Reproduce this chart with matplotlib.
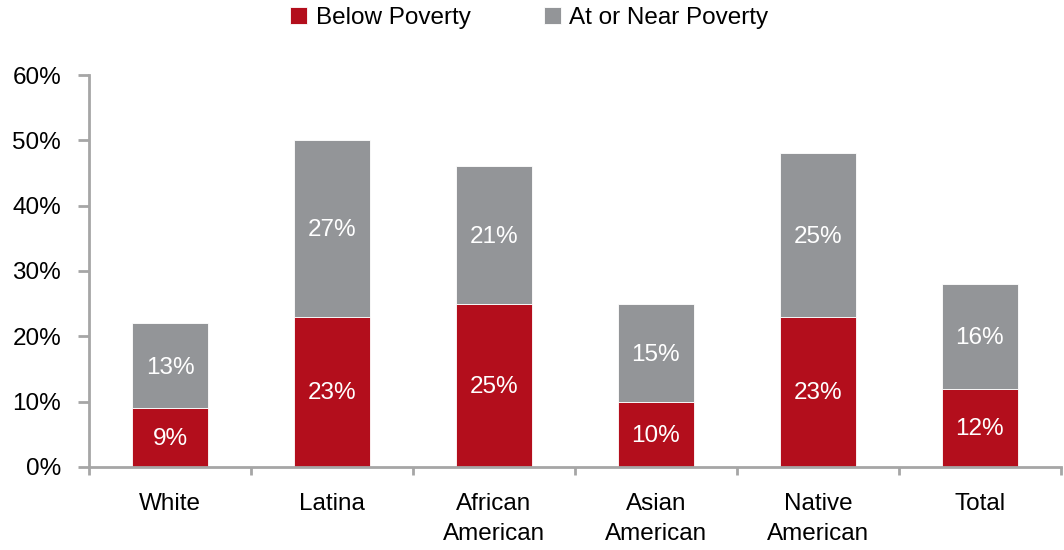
import matplotlib.pyplot as plt
from matplotlib import font_manager
import numpy as np

# 数据
categories = ['White', 'Latina', 'African\nAmerican', 'Asian\nAmerican', 'Native\nAmerican', 'Total']
below = [9, 23, 25, 10, 23, 12]
near = [13, 27, 21, 15, 25, 16]
y_ticks = [0, 10, 20, 30, 40, 50, 60]

names = {f.name for f in font_manager.fontManager.ttflist}
font = 'Liberation Sans Narrow' if 'Liberation Sans Narrow' in names else 'Liberation Sans'
plt.rcParams['font.family'] = [font, 'DejaVu Sans']

red = '#B30E1C'
gray = '#939598'
axis_gray = '#A6A6A6'

fig = plt.figure(figsize=(10.64, 5.5), dpi=100)
ax = fig.add_axes([0.0836, 0.151, 0.9134, 0.7126])

x = np.arange(len(categories))
w = 0.47
ax.bar(x, below, w, color=red, label='Below Poverty', edgecolor='white', linewidth=0.6)
ax.bar(x, near, w, bottom=below, color=gray, label='At or Near Poverty', edgecolor='white', linewidth=0.6)

# 柱内数值标签
for i in range(len(x)):
    ax.text(x[i], below[i] / 2 - 0.2, f'{below[i]}%', ha='center', va='center',
            color='white', fontsize=17.5)
    ax.text(x[i], below[i] + near[i] / 2 - 0.3, f'{near[i]}%', ha='center', va='center',
            color='white', fontsize=17.5)

ax.set_xlim(-0.5, len(x) - 0.5)
ax.set_ylim(0, 60)
ax.set_yticks(y_ticks)
ax.set_yticklabels([f'{t}%' for t in y_ticks], fontsize=17.5)
ax.set_xticks(x)
ax.set_xticklabels(categories, fontsize=17.5, linespacing=1.45, va='top')
ax.set_xticks(np.arange(-0.5, len(x)), minor=True)
ax.tick_params(axis='x', which='major', length=0, pad=19)
ax.tick_params(axis='x', which='minor', length=6, width=2, color=axis_gray, direction='out')
ax.tick_params(axis='y', length=8, width=2, color=axis_gray, pad=12)

for s in ['top', 'right']:
    ax.spines[s].set_visible(False)
for s in ['left', 'bottom']:
    ax.spines[s].set_color(axis_gray)
    ax.spines[s].set_linewidth(2)

ax.legend(loc='center', bbox_to_anchor=(0.453, 1.145), ncol=2, frameon=False,
          fontsize=17.5, handlelength=0.7, handleheight=0.7, handletextpad=0.35,
          columnspacing=3.0, borderaxespad=0)

fig.savefig('out.png', dpi=100)
